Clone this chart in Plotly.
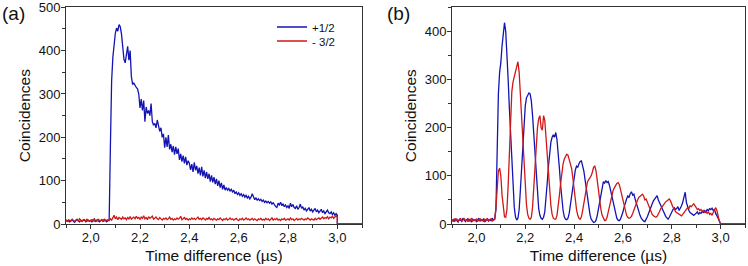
import plotly.graph_objects as go

# ---------------- data ----------------
t_start = 1.9          # first bin (µs)
t_step = 0.005         # bin width (µs)
tail_t = [3.0, 3.1]    # after the gate closes both channels read 0
tail_v = [0, 0]

# Panel (a): +1/2 and -3/2 coincidences
a_plus_half = [
    8, 6, 9, 5, 7, 10, 6, 4, 8, 11,
    7, 5, 9, 6, 8, 10, 5, 7, 9, 6,
    8, 5, 10, 7, 6, 9, 8, 5, 7, 10,
    6, 8, 9, 5, 7, 10, 180, 330, 385, 418,
    440, 452, 445, 460, 455, 438, 412, 380, 372, 392,
    410, 378, 400, 340, 322, 325, 318, 315, 312, 300,
    268, 288, 262, 285, 236, 270, 255, 262, 250, 278,
    236, 228, 232, 222, 240, 225, 214, 222, 200, 208,
    176, 200, 178, 205, 172, 184, 166, 180, 160, 178,
    162, 174, 148, 162, 144, 158, 140, 155, 136, 146,
    140, 125, 138, 120, 142, 124, 134, 116, 130, 112,
    132, 110, 124, 106, 120, 104, 116, 98, 112, 96,
    108, 92, 104, 88, 100, 84, 95, 80, 90, 78,
    84, 78, 82, 76, 80, 74, 78, 70, 74, 68,
    72, 66, 70, 64, 68, 62, 66, 60, 64, 58,
    62, 70, 60, 56, 60, 55, 58, 54, 57, 52,
    55, 50, 53, 49, 52, 48, 51, 46, 49, 44,
    40, 38, 48, 44, 50, 42, 47, 40, 44, 38,
    42, 36, 48, 40, 45, 38, 36, 42, 34, 38,
    46, 36, 40, 32, 36, 30, 34, 38, 30, 34,
    28, 32, 36, 28, 32, 26, 30, 34, 26, 30,
    24, 28, 32, 26, 24, 28, 22, 26, 20, 24,
    20,
]
a_minus_3half = [
    10, 8, 6, 9, 7, 11, 8, 6, 9, 10,
    7, 12, 8, 6, 10, 9, 7, 11, 8, 6,
    9, 10, 7, 12, 8, 6, 11, 9, 7, 10,
    8, 11, 7, 9, 10, 8, 12, 9, 14, 20,
    12, 16, 10, 15, 13, 11, 16, 12, 14, 10,
    15, 12, 17, 11, 14, 16, 12, 18, 13, 15,
    11, 16, 13, 19, 12, 15, 10, 17, 13, 15,
    18, 11, 14, 16, 12, 10, 15, 12, 9, 13,
    11, 14, 10, 12, 16, 11, 13, 9, 12, 10,
    14, 11, 13, 18, 10, 12, 15, 11, 13, 9,
    12, 10, 14, 11, 13, 10, 12, 16, 11, 13,
    10, 14, 12, 9, 13, 11, 15, 10, 12, 9,
    13, 11, 9, 12, 10, 14, 11, 8, 12, 10,
    13, 9, 11, 14, 10, 12, 9, 11, 13, 10,
    8, 12, 10, 13, 9, 11, 14, 10, 12, 9,
    11, 13, 9, 12, 10, 8, 12, 10, 13, 9,
    11, 9, 13, 10, 12, 8, 11, 14, 9, 12,
    10, 13, 9, 11, 8, 12, 10, 13, 9, 11,
    12, 9, 14, 10, 12, 8, 11, 13, 9, 12,
    10, 13, 11, 9, 12, 10, 14, 11, 9, 12,
    11, 9, 13, 10, 12, 14, 11, 13, 16, 12,
    15, 13, 17, 12, 16, 14, 18, 13, 15, 19,
    16,
]

# Panel (b): oscillating +1/2 and -3/2 coincidences
b_plus_half = [
    6, 9, 5, 11, 7, 4, 10, 8, 6, 12,
    7, 5, 9, 11, 6, 8, 4, 10, 7, 9,
    5, 8, 12, 6, 9, 7, 11, 5, 8, 10,
    6, 9, 7, 12, 8, 10, 30, 150, 270, 315,
    335, 370, 400, 418, 400, 360, 300, 240, 180, 120,
    70, 35, 15, 8, 12, 30, 70, 120, 170, 215,
    245, 262, 268, 272, 270, 255, 225, 185, 140, 95,
    60, 32, 18, 12, 10, 14, 25, 50, 85, 120,
    150, 170, 180, 185, 180, 190, 175, 150, 115, 80,
    50, 28, 15, 10, 9, 12, 22, 40, 62, 85,
    100, 112, 120, 118, 125, 130, 131, 122, 110, 92,
    72, 52, 35, 20, 10, 5, 3, 4, 8, 18,
    32, 48, 65, 78, 88, 85, 90, 86, 88, 80,
    68, 55, 42, 30, 20, 12, 8, 7, 10, 16,
    25, 35, 45, 52, 58, 55, 63, 67, 60, 62,
    52, 42, 35, 26, 18, 12, 8, 6, 5, 9,
    15, 22, 30, 38, 42, 48, 52, 55, 59, 50,
    45, 40, 34, 28, 22, 16, 12, 10, 14, 20,
    26, 30, 34, 30, 32, 36, 28, 32, 38, 45,
    55, 66, 45, 35, 28, 24, 22, 20, 18, 20,
    22, 25, 20, 24, 22, 26, 24, 28, 25, 30,
    28, 32, 30, 33, 28, 30, 22, 18, 12, 6,
    0,
]
b_minus_3half = [
    9, 5, 11, 7, 10, 6, 8, 12, 5, 9,
    11, 7, 9, 5, 10, 8, 12, 6, 9, 7,
    10, 6, 8, 11, 7, 9, 5, 10, 8, 12,
    7, 9, 11, 6, 8, 10, 35, 80, 110, 116,
    100, 60, 30, 15, 14, 30, 80, 150, 220, 275,
    295, 305, 318, 330, 337, 315, 270, 215, 160, 110,
    70, 40, 20, 12, 10, 14, 35, 75, 120, 165,
    200, 218, 225, 200, 195, 225, 215, 180, 140, 100,
    65, 38, 20, 12, 10, 10, 18, 35, 60, 85,
    108, 125, 135, 142, 145, 143, 135, 128, 115, 95,
    72, 50, 30, 18, 12, 10, 15, 28, 45, 62,
    78, 88, 92, 95, 100, 108, 118, 120, 110, 90,
    68, 48, 30, 18, 10, 7, 8, 14, 25, 38,
    52, 62, 70, 75, 80, 84, 86, 82, 72, 60,
    48, 36, 25, 18, 14, 12, 13, 16, 22, 30,
    38, 45, 50, 55, 58, 60, 62, 58, 50, 52,
    45, 38, 30, 24, 20, 17, 15, 14, 16, 20,
    26, 32, 36, 40, 44, 46, 48, 50, 52, 48,
    40, 35, 32, 26, 24, 22, 20, 18, 17, 20,
    24, 28, 30, 34, 32, 38, 36, 40, 42, 38,
    35, 30, 32, 28, 30, 26, 28, 24, 25, 22,
    26, 20, 22, 18, 24, 30, 34, 28, 15, 6,
    0,
]

series_names = ["+1/2", "- 3/2"]
x_tick_vals = [2.0, 2.2, 2.4, 2.6, 2.8, 3.0]
x_tick_text = ["2,0", "2,2", "2,4", "2,6", "2,8", "3,0"]
a_y_ticks = [0, 100, 200, 300, 400, 500]
b_y_ticks = [0, 100, 200, 300, 400]
x_title = "Time difference (µs)"
y_title = "Coincidences"
panel_labels = ["(a)", "(b)"]

# ---------------- figure ----------------
BLUE = "#1414B4"
RED = "#D01818"
AXC = "#333333"
FONT = "Liberation Sans, Arial, sans-serif"


def times(n):
    return [round(t_start + t_step * i, 4) for i in range(n)] + tail_t


fig = go.Figure()
fig.add_trace(go.Scatter(x=times(len(a_plus_half)), y=a_plus_half + tail_v, mode="lines",
                         name=series_names[0], legend="legend",
                         line=dict(color=BLUE, width=1.3), xaxis="x", yaxis="y"))
fig.add_trace(go.Scatter(x=times(len(a_minus_3half)), y=a_minus_3half + tail_v, mode="lines",
                         name=series_names[1], legend="legend2",
                         line=dict(color=RED, width=1.3), xaxis="x", yaxis="y"))
fig.add_trace(go.Scatter(x=times(len(b_plus_half)), y=b_plus_half + tail_v, mode="lines",
                         name=series_names[0], showlegend=False,
                         line=dict(color=BLUE, width=1.3), xaxis="x2", yaxis="y2"))
fig.add_trace(go.Scatter(x=times(len(b_minus_3half)), y=b_minus_3half + tail_v, mode="lines",
                         name=series_names[1], showlegend=False,
                         line=dict(color=RED, width=1.3), xaxis="x2", yaxis="y2"))

W, H = 748, 266
ydom = [(H - 224) / H, (H - 7.3) / H]
xdom_a = [66 / W, 362 / W]
xdom_b = [452 / W, 745 / W]
xrange = [1.9, 3.1]

tickfont = dict(family=FONT, size=13, color="#111111")
titlefont = dict(family=FONT, size=15.5, color="#111111")


def xax(domain, anchor):
    return dict(domain=domain, anchor=anchor, range=xrange, showgrid=False, zeroline=False,
                automargin=False, ticklabeloverflow="allow", ticklabelstandoff=-3,
                showline=True, linecolor=AXC, linewidth=1, mirror=True,
                ticks="outside", ticklen=4, tickwidth=1, tickcolor=AXC,
                tickvals=x_tick_vals, ticktext=x_tick_text, tickfont=tickfont,
                minor=dict(ticks="outside", ticklen=3, tickwidth=1, tickcolor=AXC,
                           tick0=1.9, dtick=0.1),
                title=dict(text=x_title, font=titlefont, standoff=6))


def yax(domain, anchor, rng, tv):
    return dict(domain=domain, anchor=anchor, range=rng, showgrid=False, zeroline=False,
                automargin=False, ticklabeloverflow="allow", ticklabelstandoff=-2,
                showline=True, linecolor=AXC, linewidth=1, mirror=True,
                ticks="outside", ticklen=4, tickwidth=1, tickcolor=AXC,
                tickvals=tv, tickfont=tickfont,
                minor=dict(ticks="outside", ticklen=3, tickwidth=1, tickcolor=AXC,
                           tick0=0, dtick=50),
                title=dict(text=y_title, font=titlefont, standoff=4))


def xtop(over, anchor, domain):
    return dict(overlaying=over, side="top", anchor=anchor, range=xrange, domain=domain,
                showgrid=False, automargin=False,
                zeroline=False, showline=False, showticklabels=False,
                ticks="inside", ticklen=4, tickwidth=1, tickcolor=AXC, tickvals=x_tick_vals,
                minor=dict(ticks="inside", ticklen=3, tickwidth=1, tickcolor=AXC,
                           tick0=1.9, dtick=0.1))


def yright(over, anchor, rng, tv, domain):
    return dict(overlaying=over, side="right", anchor=anchor, range=rng, domain=domain,
                showgrid=False, automargin=False,
                zeroline=False, showline=False, showticklabels=False,
                ticks="inside", ticklen=4, tickwidth=1, tickcolor=AXC, tickvals=tv,
                minor=dict(ticks="inside", ticklen=3, tickwidth=1, tickcolor=AXC,
                           tick0=0, dtick=50))


legfont = dict(family=FONT, size=11.5, color="#111111")
leg_common = dict(xanchor="left", yanchor="top", bgcolor="rgba(0,0,0,0)",
                  font=legfont, itemwidth=30, borderwidth=0)

fig.update_layout(
    width=W, height=H, autosize=False,
    margin=dict(l=0, r=0, t=0, b=0, pad=0, autoexpand=False),
    paper_bgcolor="white", plot_bgcolor="white",
    font=dict(family=FONT, color="#111111"),
    xaxis=xax(xdom_a, "y"),
    yaxis=yax(ydom, "x", [0, 500], a_y_ticks),
    xaxis2=xax(xdom_b, "y2"),
    yaxis2=yax(ydom, "x2", [0, 450], b_y_ticks),
    xaxis3=xtop("x", "y", xdom_a),
    yaxis3=yright("y", "x", [0, 500], a_y_ticks, ydom),
    xaxis4=xtop("x2", "y2", xdom_b),
    yaxis4=yright("y2", "x2", [0, 450], b_y_ticks, ydom),
    showlegend=True,
    legend=dict(x=272 / W, y=(H - 12.5) / H, **leg_common),
    legend2=dict(x=272 / W, y=(H - 26.5) / H, **leg_common),
    annotations=[
        dict(text=panel_labels[0], x=0 / W, y=(H - 13) / H, xref="paper", yref="paper",
             xanchor="left", yanchor="middle", showarrow=False,
             font=dict(family=FONT, size=19, color="#111111")),
        dict(text=panel_labels[1], x=385 / W, y=(H - 13) / H, xref="paper", yref="paper",
             xanchor="left", yanchor="middle", showarrow=False,
             font=dict(family=FONT, size=19, color="#111111")),
    ],
)

fig.write_html("out.html", config={"displayModeBar": False},
               post_script="document.body.style.margin='0px';")
